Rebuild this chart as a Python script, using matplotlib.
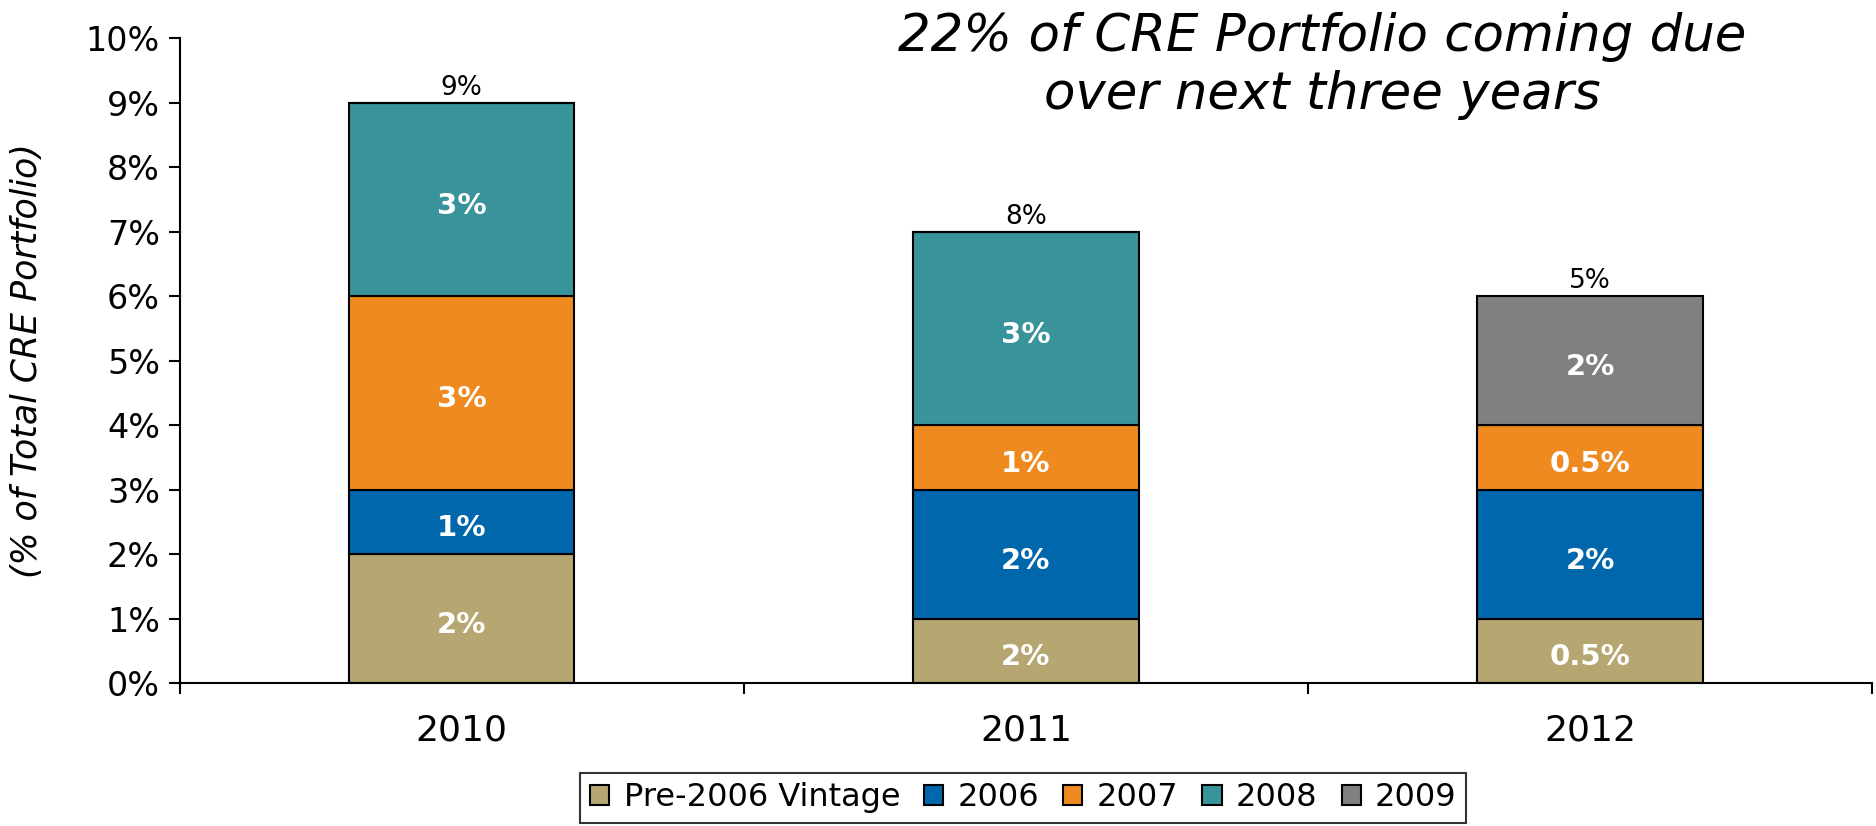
import matplotlib.pyplot as plt
import numpy as np

# Data
years = ["2010", "2011", "2012"]
series = ["Pre-2006 Vintage", "2006", "2007", "2008", "2009"]
pre2006 = [2, 1, 1]
v2006 = [1, 2, 2]
v2007 = [3, 1, 1]
v2008 = [3, 3, 0]
v2009 = [0, 0, 2]
# text shown inside each segment
seg_labels = [
    ["2%", "2%", "0.5%"],
    ["1%", "2%", "2%"],
    ["3%", "1%", "0.5%"],
    ["3%", "3%", ""],
    ["", "", "2%"],
]
total_labels = ["9%", "8%", "5%"]
colors = ["#B5A672", "#0067AC", "#EE8A1F", "#38939A", "#808080"]

fig = plt.figure(figsize=(18.76, 8.26), dpi=100)
ax = fig.add_axes([0.0957, 0.173, 0.9023, 0.781])

x = np.arange(len(years))
bottom = np.zeros(len(years))
values = [pre2006, v2006, v2007, v2008, v2009]
for vals, col, name, labs in zip(values, colors, series, seg_labels):
    vals = np.array(vals, dtype=float)
    ax.bar(x, vals, 0.4, bottom=bottom, color=col, edgecolor="black",
           linewidth=1.5, label=name)
    for xi, v, b, t in zip(x, vals, bottom, labs):
        if v > 0 and t:
            ax.text(xi, b + v / 2 - 0.1, t, ha="center", va="center", color="white",
                    fontsize=21, fontweight="bold")
    bottom += vals

for xi, top, t in zip(x, bottom, total_labels):
    ax.text(xi, top + 0.03, t, ha="center", va="bottom", fontsize=19)

ax.set_xlim(-0.5, 2.5)
ax.set_ylim(0, 10)
ax.set_yticks(np.arange(0, 11, 1))
ax.set_yticklabels([f"{i}%" for i in range(11)], fontsize=24)
ax.tick_params(axis="y", direction="out", length=8, width=1.5, pad=6)

ax.set_xticks([-0.5, 0.5, 1.5, 2.5])
ax.set_xticklabels([])
ax.tick_params(axis="x", which="major", direction="out", length=8, width=1.5)
ax.set_xticks(x, minor=True)
ax.set_xticklabels(years, minor=True, fontsize=26)
ax.tick_params(axis="x", which="minor", length=0, pad=22)

for s in ["top", "right"]:
    ax.spines[s].set_visible(False)
for s in ["left", "bottom"]:
    ax.spines[s].set_linewidth(1.5)

ax.set_ylabel("(% of Total CRE Portfolio)", fontsize=25, style="italic", labelpad=30)

fig.text(0.705, 0.985, "22% of CRE Portfolio coming due\nover next three years",
         ha="center", va="top", fontsize=37, style="italic", linespacing=1.2)

leg = fig.legend(loc="lower center", bbox_to_anchor=(0.5455, 0.0), ncol=5,
                 fontsize=23, frameon=True, fancybox=False, edgecolor="black",
                 handlelength=0.6, handleheight=0.6, handletextpad=0.45,
                 columnspacing=0.75, borderpad=0.3, borderaxespad=0.1)
leg.get_frame().set_linewidth(1.5)

fig.savefig("out.png", dpi=100)
